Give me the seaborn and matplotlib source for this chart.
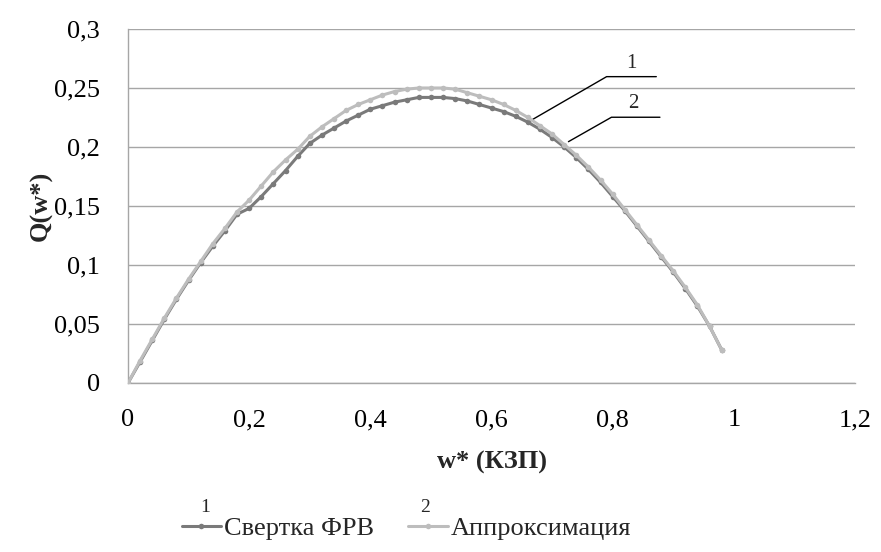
import numpy as np
import pandas as pd
import matplotlib
matplotlib.use("Agg")
import matplotlib.pyplot as plt
import seaborn as sns

# values, step 0.02
w_star = [0.00, 0.02, 0.04, 0.06, 0.08, 0.10, 0.12, 0.14, 0.16, 0.18,
          0.20, 0.22, 0.24, 0.26, 0.28, 0.30, 0.32, 0.34, 0.36, 0.38,
          0.40, 0.42, 0.44, 0.46, 0.48, 0.50, 0.52, 0.54, 0.56, 0.58,
          0.60, 0.62, 0.64, 0.66, 0.68, 0.70, 0.72, 0.74, 0.76, 0.78,
          0.80, 0.82, 0.84, 0.86, 0.88, 0.90, 0.92, 0.94, 0.96, 0.98]

svertka = [0.000, 0.018, 0.036, 0.054, 0.071, 0.087, 0.102, 0.116, 0.129, 0.143,
           0.148, 0.158, 0.169, 0.180, 0.192, 0.203, 0.210, 0.216, 0.222, 0.227,
           0.232, 0.235, 0.238, 0.240, 0.242, 0.242, 0.242, 0.241, 0.239, 0.236,
           0.233, 0.230, 0.226, 0.221, 0.215, 0.208, 0.200, 0.191, 0.181, 0.170,
           0.158, 0.146, 0.133, 0.120, 0.107, 0.094, 0.080, 0.065, 0.048, 0.028]

approx = [0.000, 0.019, 0.037, 0.055, 0.072, 0.088, 0.103, 0.118, 0.131, 0.145,
          0.155, 0.167, 0.179, 0.189, 0.198, 0.209, 0.217, 0.224, 0.231, 0.236,
          0.240, 0.244, 0.247, 0.249, 0.250, 0.250, 0.250, 0.249, 0.246, 0.243,
          0.240, 0.236, 0.231, 0.225, 0.218, 0.211, 0.202, 0.193, 0.183, 0.172,
          0.160, 0.147, 0.134, 0.121, 0.108, 0.095, 0.081, 0.066, 0.048, 0.028]

series_names = ["Свертка ФРВ", "Аппроксимация"]
x_ticks = [0, 0.2, 0.4, 0.6, 0.8, 1.0, 1.2]
x_tick_labels = ["0", "0,2", "0,4", "0,6", "0,8", "1", "1,2"]
y_ticks = [0, 0.05, 0.1, 0.15, 0.2, 0.25, 0.3]
y_tick_labels = ["0", "0,05", "0,1", "0,15", "0,2", "0,25", "0,3"]

df = pd.DataFrame({"w": w_star, series_names[0]: svertka, series_names[1]: approx})

sns.set_style("white")
plt.rcParams["font.family"] = "serif"
plt.rcParams["font.serif"] = ["Liberation Serif", "DejaVu Serif"]

dark = "#7a7a7a"
light = "#bdbdbd"
grid_c = "#a6a6a6"

fig = plt.figure(figsize=(8.81, 5.52), dpi=100)
ax = fig.add_axes([0.1453, 0.3062, 0.8252, 0.6413])

sns.lineplot(data=df, x="w", y=series_names[0], ax=ax, color=dark, lw=2.2,
             marker="o", markersize=4, markeredgewidth=0, label=series_names[0], zorder=3)
sns.lineplot(data=df, x="w", y=series_names[1], ax=ax, color=light, lw=2.2,
             marker="o", markersize=4, markeredgewidth=0, label=series_names[1], zorder=4)

ax.set_xlim(0, 1.2)
ax.set_ylim(0, 0.3)
ax.set_xticks(x_ticks)
ax.set_xticklabels(x_tick_labels)
ax.set_yticks(y_ticks)
ax.set_yticklabels(y_tick_labels)
ax.tick_params(axis="both", direction="out", length=7, width=1, color=grid_c,
               labelsize=19, colors="black")
ax.tick_params(axis="x", pad=12)
ax.tick_params(axis="y", pad=13)
for t in ax.get_xticklines() + ax.get_yticklines():
    t.set_color(grid_c)

ax.yaxis.grid(True, color=grid_c, lw=1)
ax.set_axisbelow(True)
for s in ["top", "right"]:
    ax.spines[s].set_visible(False)
for s in ["left", "bottom"]:
    ax.spines[s].set_color(grid_c)
    ax.spines[s].set_linewidth(1)

ax.set_xlabel("w* (КЗП)", fontsize=19, fontweight="bold", labelpad=14)
ax.set_ylabel("Q(w*)", fontsize=19, fontweight="bold", labelpad=1)

# leader lines with curve numbers
ax.plot([w_star[33], 0.790, 0.872], [svertka[33], 0.2596, 0.2596], color="black", lw=1)
ax.text(0.831, 0.263, "1", fontsize=15, ha="center", va="bottom")
ax.plot([0.727, 0.798, 0.878], [0.2045, 0.2252, 0.2252], color="black", lw=1)
ax.text(0.834, 0.229, "2", fontsize=15, ha="center", va="bottom")

ax.get_legend().remove()
handles, labels = ax.get_legend_handles_labels()
leg = fig.legend(handles, labels, loc="center", bbox_to_anchor=(0.461, 0.043), ncol=2,
                 frameon=False, fontsize=19, handlelength=1.5, handletextpad=0.1,
                 columnspacing=1.3)
fig.text(205 / 881, 1 - 508 / 552, "1", fontsize=14, ha="center", va="center")
fig.text(425 / 881, 1 - 507 / 552, "2", fontsize=14, ha="center", va="center")

fig.savefig("out.png", dpi=100)
